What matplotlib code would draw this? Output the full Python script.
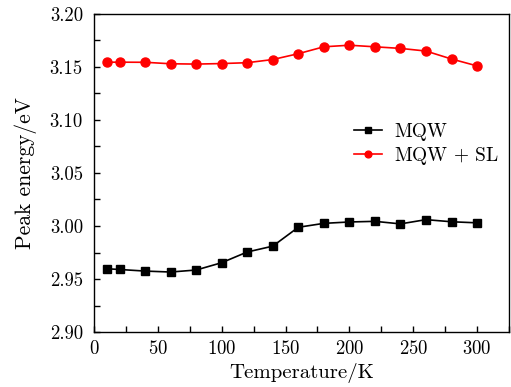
import matplotlib
matplotlib.use("Agg")
import matplotlib.pyplot as plt
from matplotlib.ticker import MultipleLocator

plt.rcParams['font.family'] = 'serif'
plt.rcParams['font.serif'] = ['cmr10']
plt.rcParams['mathtext.fontset'] = 'cm'
plt.rcParams['axes.formatter.use_mathtext'] = True

temps = [10, 20, 40, 60, 80, 100, 120, 140, 160, 180, 200, 220, 240, 260, 280, 300]
mqw = [2.9597, 2.959, 2.9575, 2.9566, 2.9585, 2.9654, 2.9755, 2.981, 2.9988, 3.0025,
       3.0038, 3.0044, 3.002, 3.006, 3.004, 3.003]
mqw_sl = [3.1545, 3.1545, 3.1544, 3.153, 3.1527, 3.1532, 3.154, 3.157, 3.1625, 3.169,
          3.1705, 3.169, 3.1675, 3.165, 3.1575, 3.151]

fig = plt.figure(figsize=(5.11, 3.87), dpi=100)
ax = fig.add_axes([0.184, 0.142, 0.812, 0.822])

ax.plot(temps, mqw, color='black', marker='s', markersize=5.5, linewidth=1.2, label='MQW')
ax.plot(temps, mqw_sl, color='red', marker='o', markersize=6.5, linewidth=1.2,
        label=r'MQW$\,+\,$SL')

ax.set_xlim(0, 325)
ax.set_ylim(2.90, 3.20)
ax.xaxis.set_major_locator(MultipleLocator(50))
ax.xaxis.set_minor_locator(MultipleLocator(25))
ax.yaxis.set_major_locator(MultipleLocator(0.05))
ax.yaxis.set_minor_locator(MultipleLocator(0.025))
ax.yaxis.set_major_formatter(plt.FormatStrFormatter('%.2f'))
ax.tick_params(which='both', direction='in', length=4, width=1, labelsize=13.5,
               top=False, right=False)
ax.tick_params(axis='x', pad=5.5)
ax.tick_params(axis='y', pad=8)
for s in ax.spines.values():
    s.set_linewidth(1)

ax.set_xlabel('Temperature/K', fontsize=15, labelpad=4)
ax.set_ylabel('Peak energy/eV', fontsize=15.5, labelpad=9)

ax.legend(loc='upper left', bbox_to_anchor=(0.585, 0.713), frameon=False, fontsize=14,
          handlelength=1.45, labelspacing=0.2, handletextpad=0.6, markerscale=0.75)

fig.savefig('out.png', dpi=100)
